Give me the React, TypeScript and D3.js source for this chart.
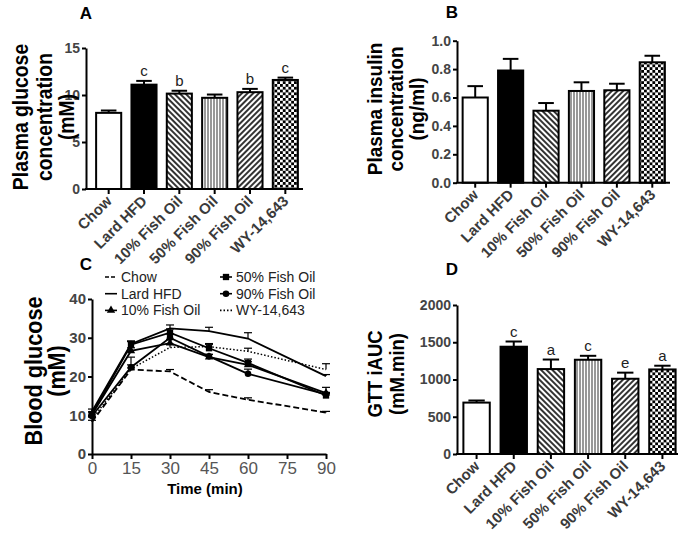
import React, { useEffect, useRef } from 'react';
import * as d3 from 'd3';

// groups shared by panels A, B and D
const groups = ['Chow', 'Lard HFD', '10% Fish Oil', '50% Fish Oil', '90% Fish Oil', 'WY-14,643'];
const groupFills = ['white', 'black', 'url(#hatchDown)', 'url(#vlines)', 'url(#hatchUp)', 'url(#checker)'];

// A: plasma glucose (mM)
const glucoseMean = [8.1, 11.1, 10.15, 9.7, 10.3, 11.6];
const glucoseErr = [0.25, 0.4, 0.3, 0.35, 0.35, 0.25];
const glucoseLetters = ['', 'c', 'b', '', 'b', 'c'];
const glucoseTicks = [0, 5, 10, 15];

// B: plasma insulin (ng/ml)
const insulinMean = [0.6, 0.79, 0.507, 0.646, 0.651, 0.848];
const insulinErr = [0.08, 0.082, 0.054, 0.061, 0.046, 0.046];
const insulinLetters = ['', '', '', '', '', ''];
const insulinTicks = [0, 0.2, 0.4, 0.6, 0.8, 1.0];

// D: GTT iAUC (mM.min)
const iaucMean = [690, 1440, 1140, 1265, 1010, 1135];
const iaucErr = [28, 70, 128, 53, 82, 50];
const iaucLetters = ['', 'c', 'a', 'c', 'e', 'a'];
const iaucTicks = [0, 500, 1000, 1500, 2000];

// C: blood glucose during GTT
const times = [0, 15, 30, 45, 60, 90];
const timeTicks = [0, 15, 30, 45, 60, 75, 90];
const gttTicks = [0, 10, 20, 30, 40];
const chowGtt = [8.3, 21.8, 21.3, 16.0, 14.0, 10.7];
const chowGttErr = [0.4, 0.4, 0.5, 0.6, 0.5, 0.3];
const lardGtt = [11.0, 28.4, 32.4, 31.7, 29.8, 20.1];
const lardGttErr = [0.6, 0.8, 0.9, 1.0, 1.5, 0.4];
const fo10Gtt = [10.2, 26.6, 28.6, 25.0, 23.0, 15.7];
const fo10GttErr = [0.6, 0.8, 1.0, 0.7, 0.8, 1.5];
const fo50Gtt = [10.3, 28.2, 31.3, 27.3, 23.5, 15.1];
const fo50GttErr = [0.6, 0.8, 1.0, 1.2, 1.0, 0.5];
const fo90Gtt = [9.8, 22.4, 30.0, 25.2, 20.7, 15.4];
const fo90GttErr = [0.5, 2.6, 1.0, 0.5, 1.2, 0.5];
const wyGtt = [9.0, 22.0, 27.5, 27.7, 26.5, 21.8];
const wyGttErr = [0.5, 1.0, 0.8, 0.6, 0.8, 1.5];

const FONT = "'Liberation Sans', Arial, sans-serif";

// squeeze a text a bit along its baseline, the figure's fonts are narrow
function condense(sel: any, k: number) {
  const node = sel.node();
  const len = node.getComputedTextLength();
  sel.attr('textLength', len * k).attr('lengthAdjust', 'spacingAndGlyphs');
}

function drawBarPanel(root: any, o: any) {
  const g = root.append('g');
  const x = d3.scaleBand().domain(groups).range(o.xRange).paddingInner(0.29).paddingOuter(0.145);
  const y = d3.scaleLinear().domain([0, o.yMax]).range([o.y0, o.yTop]);

  // bars
  g.selectAll('rect.bar')
    .data(o.mean)
    .enter()
    .append('rect')
    .attr('x', (d: number, i: number) => x(groups[i]))
    .attr('y', (d: number) => y(d))
    .attr('width', x.bandwidth())
    .attr('height', (d: number) => y(0) - y(d))
    .attr('fill', (d: number, i: number) => groupFills[i])
    .attr('stroke', 'black')
    .attr('stroke-width', 2);

  // upper error bars
  const capW = x.bandwidth() * 0.62;
  o.mean.forEach((m: number, i: number) => {
    const cx = (x(groups[i]) as number) + x.bandwidth() / 2;
    g.append('line')
      .attr('x1', cx).attr('x2', cx)
      .attr('y1', y(m)).attr('y2', y(m + o.err[i]))
      .attr('stroke', 'black').attr('stroke-width', 2);
    g.append('line')
      .attr('x1', cx - capW / 2).attr('x2', cx + capW / 2)
      .attr('y1', y(m + o.err[i])).attr('y2', y(m + o.err[i]))
      .attr('stroke', 'black').attr('stroke-width', 2);
    if (o.letters[i]) {
      g.append('text')
        .attr('x', cx)
        .attr('y', y(m + o.err[i]) - 5)
        .attr('text-anchor', 'middle')
        .style('font', `15px ${FONT}`)
        .attr('fill', '#222')
        .text(o.letters[i]);
    }
  });

  // y axis
  const ya = g.append('g')
    .attr('transform', `translate(${o.axisX},0)`)
    .call(d3.axisLeft(y).tickValues(o.ticks).tickSize(4).tickSizeOuter(0).tickPadding(2).tickFormat(o.fmt));
  ya.select('.domain').attr('stroke-width', 2);
  ya.selectAll('.tick line').attr('stroke-width', 2);
  ya.selectAll('text').style('font', `bold 14px ${FONT}`).attr('fill', '#444');

  // x axis
  g.append('line')
    .attr('x1', o.axisX - 1).attr('x2', o.xEnd)
    .attr('y1', o.y0).attr('y2', o.y0)
    .attr('stroke', 'black').attr('stroke-width', 2);
  groups.forEach((c, i) => {
    const cx = (x(c) as number) + x.bandwidth() / 2;
    g.append('line')
      .attr('x1', cx).attr('x2', cx)
      .attr('y1', o.y0).attr('y2', o.y0 + 5)
      .attr('stroke', 'black').attr('stroke-width', 2);
    g.append('text')
      .attr('transform', `translate(${cx + 4},${o.y0 + 13}) rotate(-45)`)
      .attr('text-anchor', 'end')
      .style('font', `bold 15px ${FONT}`)
      .attr('fill', '#3a3a3a')
      .text(c);
  });

  // axis title
  o.title.forEach((t: string, i: number) => {
    const tt = g.append('text')
      .attr('transform', `translate(${o.titleX[i]},${o.titleY}) rotate(-90)`)
      .attr('text-anchor', 'middle')
      .style('font', `bold ${o.titleSize}px ${FONT}`)
      .attr('fill', 'black')
      .text(t);
    condense(tt, 0.9);
  });

  g.append('text')
    .attr('x', o.letterX).attr('y', o.letterY)
    .attr('text-anchor', 'middle')
    .style('font', `bold 17px ${FONT}`)
    .text(o.letter);
}

function drawLinePanel(root: any) {
  const g = root.append('g');
  const x = d3.scaleLinear().domain([0, 90]).range([92, 326]);
  const y = d3.scaleLinear().domain([0, 40]).range([454, 299]);

  const series = [
    { name: 'Chow', v: chowGtt, e: chowGttErr, dash: '6,3', mark: 'none', w: 1.8 },
    { name: 'Lard HFD', v: lardGtt, e: lardGttErr, dash: null, mark: 'none', w: 1.8 },
    { name: '10% Fish Oil', v: fo10Gtt, e: fo10GttErr, dash: null, mark: 'triangle', w: 1.8 },
    { name: '50% Fish Oil', v: fo50Gtt, e: fo50GttErr, dash: null, mark: 'square', w: 1.8 },
    { name: '90% Fish Oil', v: fo90Gtt, e: fo90GttErr, dash: null, mark: 'circle', w: 1.8 },
    { name: 'WY-14,643', v: wyGtt, e: wyGttErr, dash: '1.5,2', mark: 'none', w: 1.5 },
  ];
  const symbols: any = {
    triangle: d3.symbol().type(d3.symbolTriangle).size(30),
    square: d3.symbol().type(d3.symbolSquare).size(40),
    circle: d3.symbol().type(d3.symbolCircle).size(34),
  };

  const line = d3.line<number>().x((d, i) => x(times[i])).y((d) => y(d));

  series.forEach((s) => {
    // error bars (upper)
    s.v.forEach((v, i) => {
      const cx = x(times[i]);
      g.append('line')
        .attr('x1', cx).attr('x2', cx).attr('y1', y(v)).attr('y2', y(v + s.e[i]))
        .attr('stroke', 'black').attr('stroke-width', 1.2);
      g.append('line')
        .attr('x1', cx - 4).attr('x2', cx + 4).attr('y1', y(v + s.e[i])).attr('y2', y(v + s.e[i]))
        .attr('stroke', 'black').attr('stroke-width', 1.2);
    });
    g.append('path')
      .attr('d', line(s.v))
      .attr('fill', 'none')
      .attr('stroke', 'black')
      .attr('stroke-width', s.w)
      .attr('stroke-dasharray', s.dash);
    if (s.mark !== 'none') {
      s.v.forEach((v, i) => {
        g.append('path')
          .attr('d', symbols[s.mark]())
          .attr('transform', `translate(${x(times[i])},${y(v)})`)
          .attr('fill', 'black');
      });
    }
  });

  // axes
  const ya = g.append('g')
    .attr('transform', 'translate(92,0)')
    .call(d3.axisLeft(y).tickValues(gttTicks).tickSize(4).tickSizeOuter(0).tickPadding(2));
  ya.select('.domain').attr('stroke-width', 2);
  ya.selectAll('.tick line').attr('stroke-width', 2);
  ya.selectAll('text').style('font', `bold 15px ${FONT}`).attr('fill', '#444');

  const xa = g.append('g')
    .attr('transform', 'translate(0,454)')
    .call(d3.axisBottom(x).tickValues(timeTicks).tickSize(5).tickSizeOuter(0).tickPadding(3));
  xa.select('.domain').attr('stroke-width', 2);
  xa.selectAll('.tick line').attr('stroke-width', 2);
  xa.selectAll('text').style('font', `17px ${FONT}`).attr('fill', '#555');

  g.append('text')
    .attr('x', 205).attr('y', 494)
    .attr('text-anchor', 'middle')
    .style('font', `bold 15px ${FONT}`)
    .text('Time (min)');

  ['Blood glucose', '(mM)'].forEach((t, i) => {
    const tt = g.append('text')
      .attr('transform', `translate(${[42, 65][i]},371) rotate(-90)`)
      .attr('text-anchor', 'middle')
      .style('font', `bold 24px ${FONT}`)
      .text(t);
    condense(tt, 0.9);
  });

  // legend, two columns
  series.forEach((s, i) => {
    const lx = i < 3 ? 105 : 220;
    const ly = 277 + (i % 3) * 16.7;
    g.append('line')
      .attr('x1', lx).attr('x2', lx + 12).attr('y1', ly).attr('y2', ly)
      .attr('stroke', 'black').attr('stroke-width', 1.6)
      .attr('stroke-dasharray', s.dash ? (s.dash === '6,3' ? '4,2' : '1.5,2') : null);
    if (s.mark !== 'none') {
      g.append('path')
        .attr('d', symbols[s.mark]())
        .attr('transform', `translate(${lx + 6},${ly})`)
        .attr('fill', 'black');
    }
    g.append('text')
      .attr('x', lx + 16).attr('y', ly + 5)
      .style('font', `14px ${FONT}`)
      .attr('fill', '#222')
      .text(s.name);
  });

  g.append('text')
    .attr('x', 86).attr('y', 270)
    .attr('text-anchor', 'middle')
    .style('font', `bold 17px ${FONT}`)
    .text('C');
}

export default function App() {
  const svgRef = useRef<SVGSVGElement>(null);

  useEffect(() => {
    const svg = d3.select(svgRef.current);
    svg.selectAll('*').remove();

    // fill patterns for the bars
    const defs = svg.append('defs');
    const hatch = (id: string, angle: number) => {
      const p = defs.append('pattern')
        .attr('id', id)
        .attr('patternUnits', 'userSpaceOnUse')
        .attr('width', 4).attr('height', 4)
        .attr('patternTransform', `rotate(${angle})`);
      p.append('rect').attr('width', 4).attr('height', 4).attr('fill', 'white');
      p.append('line').attr('x1', 1).attr('x2', 1).attr('y1', 0).attr('y2', 4)
        .attr('stroke', 'black').attr('stroke-width', 1.6);
    };
    hatch('hatchDown', -45);
    hatch('hatchUp', 45);
    const vl = defs.append('pattern')
      .attr('id', 'vlines').attr('patternUnits', 'userSpaceOnUse')
      .attr('width', 3).attr('height', 3);
    vl.append('rect').attr('width', 3).attr('height', 3).attr('fill', 'white');
    vl.append('line').attr('x1', 1).attr('x2', 1).attr('y1', 0).attr('y2', 3)
      .attr('stroke', '#333').attr('stroke-width', 1);
    const ck = defs.append('pattern')
      .attr('id', 'checker').attr('patternUnits', 'userSpaceOnUse')
      .attr('width', 5.6).attr('height', 5.6);
    ck.append('rect').attr('width', 5.6).attr('height', 5.6).attr('fill', 'white');
    ck.append('rect').attr('width', 2.8).attr('height', 2.8).attr('fill', 'black');
    ck.append('rect').attr('x', 2.8).attr('y', 2.8).attr('width', 2.8).attr('height', 2.8).attr('fill', 'black');

    drawBarPanel(svg, {
      mean: glucoseMean, err: glucoseErr, letters: glucoseLetters, ticks: glucoseTicks,
      yMax: 15, y0: 189, yTop: 48, xRange: [91, 303], axisX: 86, xEnd: 303,
      fmt: d3.format('d'),
      title: ['Plasma glucose', 'concentration', '(mM)'], titleX: [28, 52, 74], titleY: 117, titleSize: 21.5,
      letter: 'A', letterX: 86, letterY: 19,
    });
    drawBarPanel(svg, {
      mean: insulinMean, err: insulinErr, letters: insulinLetters, ticks: insulinTicks,
      yMax: 1.0, y0: 182.7, yTop: 40.7, xRange: [457.5, 670], axisX: 457, xEnd: 670,
      fmt: d3.format('.1f'),
      title: ['Plasma insulin', 'concentration', '(ng/ml)'], titleX: [382, 403, 424], titleY: 109, titleSize: 21,
      letter: 'B', letterX: 452, letterY: 18,
    });
    drawBarPanel(svg, {
      mean: iaucMean, err: iaucErr, letters: iaucLetters, ticks: iaucTicks,
      yMax: 2000, y0: 454, yTop: 305, xRange: [458, 681], axisX: 457, xEnd: 678,
      fmt: d3.format('d'),
      title: ['GTT iAUC', '(mM.min)'], titleX: [382, 404], titleY: 374, titleSize: 20.5,
      letter: 'D', letterX: 452, letterY: 275,
    });
    drawLinePanel(svg);
  }, []);

  return (
    <svg
      ref={svgRef}
      width={685}
      height={534}
      style={{ position: 'absolute', left: 0, top: 0, background: 'white' }}
    />
  );
}
